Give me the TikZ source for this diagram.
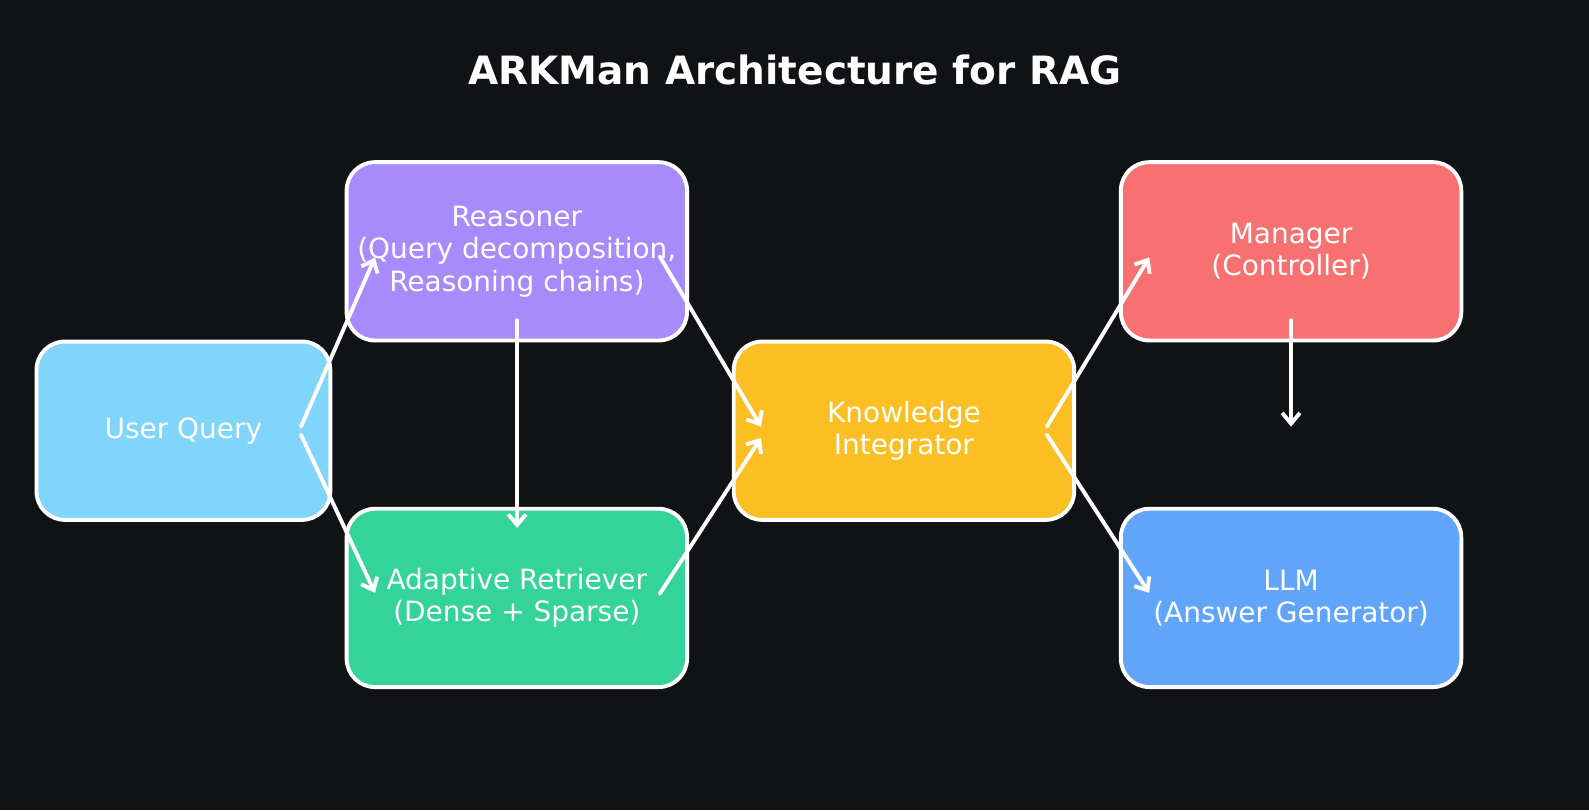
\documentclass[tikz,border=0pt]{standalone}
\usepackage{fontspec}
\setmainfont{DejaVu Sans}
\usetikzlibrary{arrows.meta,calc}
\definecolor{bg}{HTML}{111216}
\definecolor{querycol}{HTML}{81D4FA}
\definecolor{reasonercol}{HTML}{A78BFA}
\definecolor{retrievercol}{HTML}{34D399}
\definecolor{integratorcol}{HTML}{FBBF24}
\definecolor{managercol}{HTML}{F87171}
\definecolor{llmcol}{HTML}{60A5FA}
\tikzstyle{box}=[draw=white,line width=2.2pt,rounded corners=0.56cm,text=white,align=center,
  font=\fontsize{15.7}{18.2}\selectfont,minimum width=6.72cm,minimum height=3.52cm,inner sep=0pt]
\tikzstyle{arrow}=[-{Straight Barb[length=6pt,width=10pt]},line width=2.2pt,white,line cap=round]

\begin{document}
\begin{tikzpicture}[x=0.02cm,y=-0.02cm]
  % BACKGROUND
  \fill[bg] (0,0) rectangle (1568,799.3);
  \useasboundingbox (0,0) rectangle (1568,799.3);

  % TITLE
  \node[anchor=base,text=white,font=\fontsize{21.9}{26}\bfseries] (title) at (784.5,83)
    {ARKMan Architecture for RAG};

  % BOXES
  \node[box,fill=querycol,minimum width=5.8cm] (uq) at (181,425) {User Query};
  \node[box,fill=reasonercol] (rs) at (510,248)
    {Reasoner\\(Query decomposition,\\Reasoning chains)};
  \node[box,fill=retrievercol] (rt) at (510,590)
    {Adaptive Retriever\\(Dense + Sparse)};
  \node[box,fill=integratorcol] (ki) at (892,425) {Knowledge\\Integrator};
  \node[box,fill=managercol] (mg) at (1274,248) {Manager\\(Controller)};
  \node[box,fill=llmcol] (llm) at (1274,590) {LLM\\(Answer Generator)};

  % FREE END
  \coordinate (mgout) at ([shift={(0,173)}]mg.center);

  % ARROWS
  \draw[arrow] ([shift={(116,-4)}]uq.center) -- ([shift={(-140,6)}]rs.center);
  \draw[arrow] ([shift={(116,4)}]uq.center) -- ([shift={(-140,-5)}]rt.center);
  \draw[arrow] ([shift={(0.3,68)}]rs.center) -- ([shift={(0.3,-69)}]rt.center);
  \draw[arrow] ([shift={(141,5)}]rs.center) -- ([shift={(-141,-4)}]ki.center);
  \draw[arrow] ([shift={(141,-4)}]rt.center) -- ([shift={(-141,7)}]ki.center);
  \draw[arrow] ([shift={(141,-4)}]ki.center) -- ([shift={(-140,6)}]mg.center);
  \draw[arrow] ([shift={(141,4)}]ki.center) -- ([shift={(-140,-5)}]llm.center);
  \draw[arrow] ([shift={(0,68)}]mg.center) -- (mgout);
\end{tikzpicture}
\end{document}
